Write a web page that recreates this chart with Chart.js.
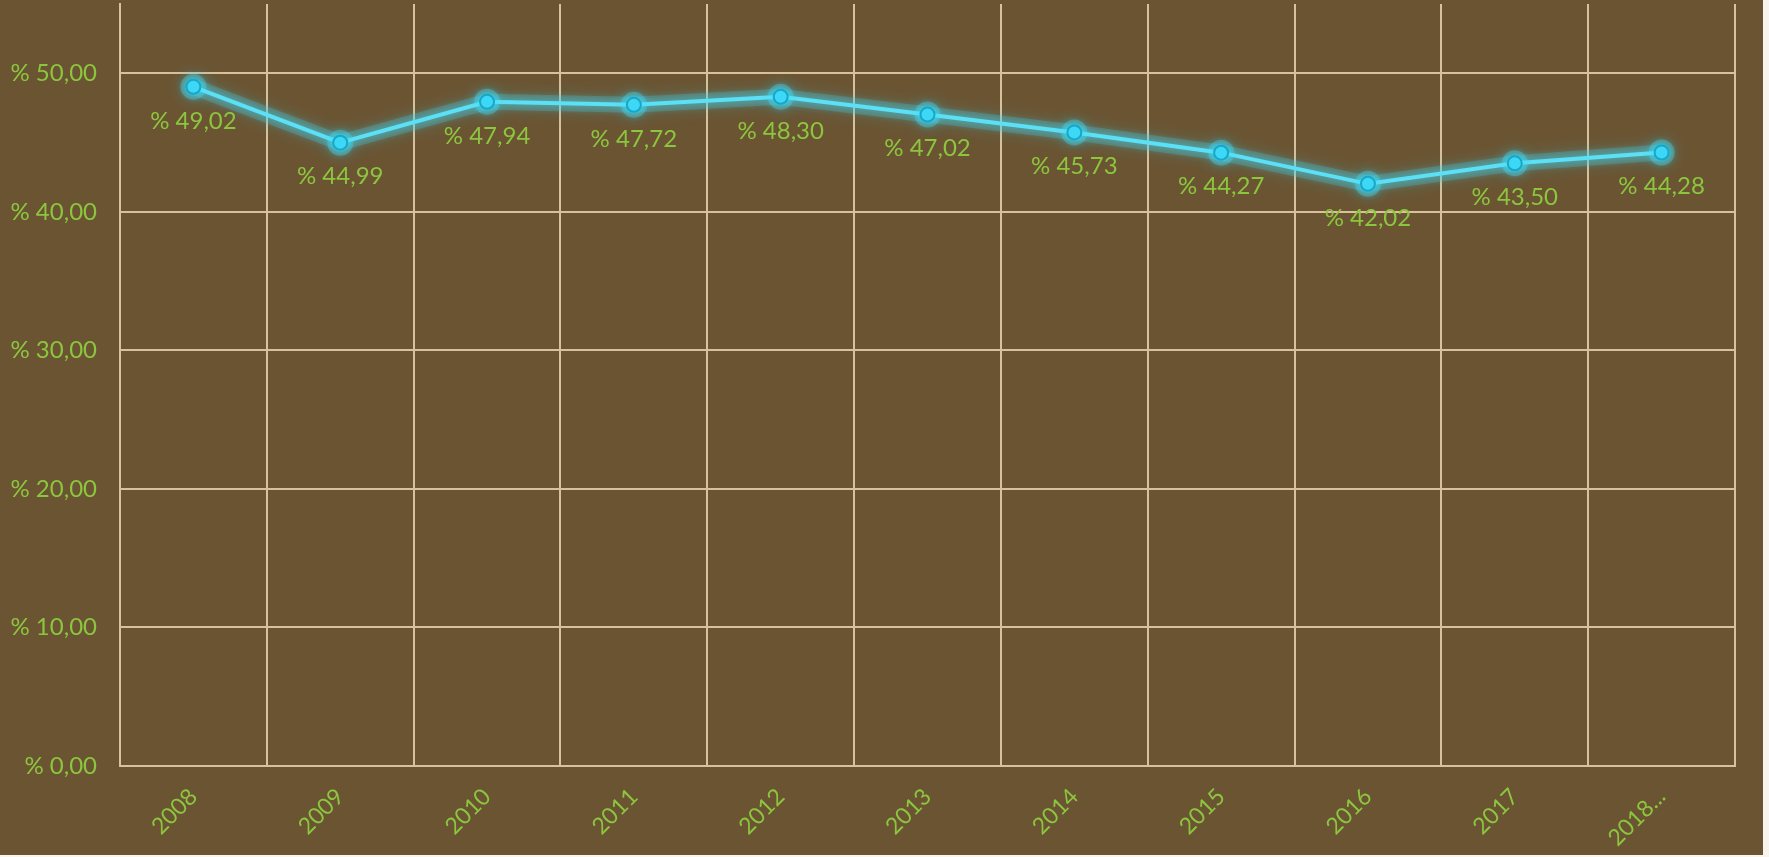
<!DOCTYPE html>
<html>
<head>
<meta charset="utf-8">
<script src="https://cdn.jsdelivr.net/npm/chart.js@4"></script>
<style>
	body{ margin:0; background:#f8f5ef; }
	#wrap{ width:1763px; height:855px; background:#6b5432; }
</style>
</head>
<body>
<div id="wrap"><canvas id="myChart1"></canvas></div>
<script>
// years on the x axis
var years = ["2008","2009","2010","2011","2012","2013","2014","2015","2016","2017","2018..."];
// share in percent
var rate_list = [49.02, 44.99, 47.94, 47.72, 48.30, 47.02, 45.73, 44.27, 42.02, 43.50, 44.28];
var yMin = 0, yMax = 55, yStep = 10;

var gridColor = "#d8c19c";
var textColor = "#8cc63f";

function pct(v){
	return "% " + Number(v).toFixed(2).replace(".", ",");
}

// soft cyan halo round the line, drawn from the dataset's own points
var glow = {
	id: "glow",
	beforeDatasetDraw: function(chart){
		var c = chart.ctx;
		var pts = chart.getDatasetMeta(0).data;
		c.save();
		c.lineJoin = "round";
		c.lineCap = "round";
		c.shadowColor = "rgba(60,220,255,0.7)";
		c.shadowBlur = 16;
		c.strokeStyle = "rgba(70,200,225,0.25)";
		c.lineWidth = 16;
		c.beginPath();
		pts.forEach(function(p, i){
			if(i == 0) c.moveTo(p.x, p.y); else c.lineTo(p.x, p.y);
		});
		c.stroke();
		c.fillStyle = "rgba(70,215,240,0.35)";
		pts.forEach(function(p){
			c.beginPath();
			c.arc(p.x, p.y, 13, 0, Math.PI * 2);
			c.fill();
		});
		c.restore();
		c.save();
		c.shadowColor = "rgba(60,225,255,0.9)";
		c.shadowBlur = 10;
	},
	afterDatasetDraw: function(chart){
		chart.ctx.restore();
	}
};

// value under each point
var pointLabels = {
	id: "pointLabels",
	afterDatasetsDraw: function(chart){
		var c = chart.ctx;
		var meta = chart.getDatasetMeta(0);
		c.save();
		c.font = "24px Lato";
		c.fillStyle = textColor;
		c.textAlign = "center";
		c.textBaseline = "middle";
		meta.data.forEach(function(pt, i){
			c.fillText(pct(rate_list[i]), pt.x, pt.y + 34);
		});
		c.restore();
	}
};

function rateChart(){
	if(window.line1 != undefined)
		window.line1.destroy();
	window.line1 = new Chart(myChart1, {
		type: "line",
		data:{
			labels: years,
			datasets:[{
				data: rate_list,
				borderColor: "#5ce0f6",
				borderWidth: 4,
				backgroundColor: "#3dd6f4",
				pointBackgroundColor: "#3dd6f4",
				pointBorderColor: "#17a7c8",
				pointBorderWidth: 2,
				pointRadius: 7,
				tension: 0,
				fill: false
			}]
		},
		options:{
			responsive: true,
			maintainAspectRatio: false,
			animation: false,
			layout:{ autoPadding: false, padding:{ top: 4, right: 28, left: 0, bottom: 0 } },
			plugins:{ legend:{ display: false }, tooltip:{ enabled: false } },
			scales:{
				x:{
					offset: true,
					grid:{ offset: true, color: gridColor, lineWidth: 2, drawTicks: false },
					border:{ color: gridColor, width: 2 },
					ticks:{
						color: textColor,
						font:{ family: "Lato", size: 23 },
						maxRotation: 45,
						minRotation: 45,
						padding: 17
					},
					afterFit: function(s){ s.height = 89; s.paddingLeft = 0; s.paddingRight = 0; }
				},
				y:{
					min: yMin,
					max: yMax,
					grid:{ color: gridColor, lineWidth: 2, drawTicks: false },
					border:{ color: gridColor, width: 2 },
					ticks:{
						stepSize: yStep,
						color: textColor,
						font:{ family: "Lato", size: 24 },
						padding: 23,
						callback: function(v){ return pct(v); }
					},
					afterBuildTicks: function(s){
						s.ticks = s.ticks.filter(function(t){ return t.value % yStep === 0; });
					},
					afterFit: function(s){ s.width = 120; s.paddingTop = 0; s.paddingBottom = 0; }
				}
			}
		},
		plugins: [glow, pointLabels]
	});
}
rateChart();
</script>
</body>
</html>
